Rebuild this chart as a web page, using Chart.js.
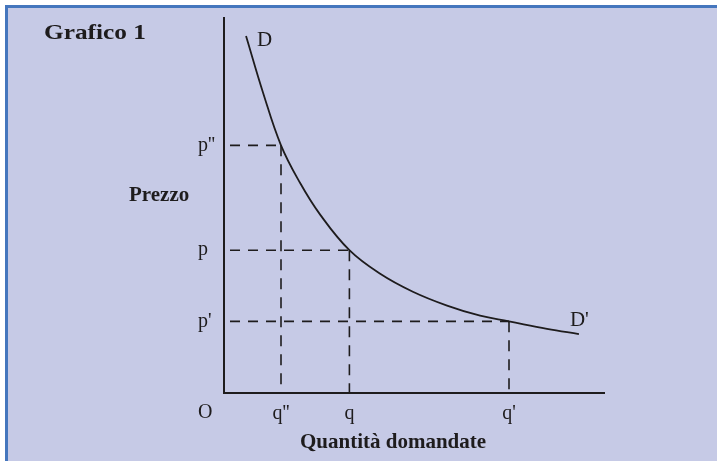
<!DOCTYPE html>
<html>
<head>
<meta charset="utf-8">
<script src="https://cdn.jsdelivr.net/npm/chart.js@4.4.1/dist/chart.umd.min.js"></script>
<style>
  html, body { margin: 0; padding: 0; background: #ffffff; }
  #wrap { position: absolute; left: 0; top: 0; width: 717px; height: 461px; }
  #panel { position: absolute; left: 5px; top: 5px; width: 712px; height: 456px;
           background: #c6cae6; border-left: 3px solid #4576bd; border-top: 3px solid #4576bd; box-sizing: border-box; }
  canvas { position: absolute; left: 0; top: 0; }
</style>
</head>
<body>
<div id="wrap">
  <div id="panel"></div>
  <canvas id="c" width="717" height="461"></canvas>
</div>
<script>
// ---- data ----
const chartTitle = "Grafico 1";
const yTitle = "Prezzo";
const xTitle = "Quantità domandate";
const originLabel = "O";
const curveLabels = ["D", "D'"];

// demand curve D-D' (quantity, price)
const curveQ = [5.8, 10.3, 15, 20.0, 25.3, 33, 41.1, 49.7, 58.7, 67.4, 75, 85.0, 93.4];
const curveP = [95.2, 80.0, 66, 56.0, 47.5, 38, 31.7, 26.9, 23.2, 20.5, 19, 17.0, 15.6];

// marked quantities and prices
const qValues = [15, 33, 75];
const qLabels = ["q''", "q", "q'"];
const pValues = [66, 38, 19];
const pLabels = ["p''", "p", "p'"];

const axisMax = 100;

// ---- build datasets ----
const ink = "#1e1c1d";
const curveData = curveQ.map((q, i) => ({ x: q, y: curveP[i] }));
const guideSets = [];
qValues.forEach((q, i) => {
  const p = pValues[i];
  guideSets.push({ type: 'line', data: [{x: 0, y: p}, {x: q, y: p}], borderColor: ink, borderWidth: 1.6,
                   borderDash: [10, 8], borderDashOffset: 12, pointRadius: 0, fill: false });
  guideSets.push({ type: 'line', data: [{x: q, y: p}, {x: q, y: 0}], borderColor: ink, borderWidth: 1.6,
                   borderDash: [11, 8], pointRadius: 0, fill: false });
});

const textPlugin = {
  id: 'texts',
  afterDraw(chart) {
    const ctx = chart.ctx;
    const xs = chart.scales.x, ys = chart.scales.y;
    ctx.save();
    ctx.fillStyle = ink;
    ctx.textBaseline = 'alphabetic';
    ctx.textAlign = 'left';
    // title: wide bold face, stretched horizontally to the reference width
    ctx.font = "bold 21px 'Liberation Serif'";
    const w = ctx.measureText(chartTitle).width;
    const k = 102 / w;
    ctx.save();
    ctx.translate(44, 39);
    ctx.scale(k, 1);
    ctx.fillText(chartTitle, 0, 0);
    ctx.restore();
    ctx.font = "bold 21px 'Liberation Serif'";
    ctx.fillText(yTitle, 129, 201);
    ctx.fillText(xTitle, 300, 448);
    ctx.font = "21px 'Liberation Serif'";
    const first = curveData[0], last = curveData[curveData.length - 1];
    ctx.fillText(curveLabels[0], xs.getPixelForValue(first.x) + 11, ys.getPixelForValue(first.y) + 10);
    ctx.fillText(curveLabels[1], xs.getPixelForValue(last.x) - 9, ys.getPixelForValue(last.y) - 8);
    ctx.font = "20px 'Liberation Serif'";
    ctx.fillText(originLabel, 198, 418);
    ctx.restore();
  }
};

new Chart(document.getElementById('c'), {
  type: 'scatter',
  data: {
    datasets: [
      { type: 'line', data: curveData, borderColor: ink, borderWidth: 1.8, pointRadius: 0,
        tension: 0.4, fill: false },
      ...guideSets
    ]
  },
  options: {
    responsive: false,
    animation: false,
    events: [],
    layout: { padding: { left: 198, top: 15, right: 113, bottom: 0 } },
    plugins: { legend: { display: false }, tooltip: { enabled: false } },
    scales: {
      x: {
        type: 'linear', min: 0, max: axisMax,
        grid: { display: false, drawTicks: false },
        border: { display: true, color: ink, width: 2 },
        afterBuildTicks: s => { s.ticks = qValues.map(v => ({ value: v })); },
        afterFit: s => { s.height = 68.5; },
        ticks: {
          autoSkip: false, maxRotation: 0, padding: 9, color: ink,
          font: { family: 'Liberation Serif', size: 20 },
          callback: (v) => { const i = qValues.indexOf(v); return i >= 0 ? qLabels[i] : ''; }
        }
      },
      y: {
        type: 'linear', min: 0, max: axisMax,
        grid: { display: false, drawTicks: false },
        border: { display: true, color: ink, width: 2 },
        afterBuildTicks: s => { s.ticks = pValues.map(v => ({ value: v })); },
        afterFit: s => { s.width = 26; },
        ticks: {
          autoSkip: false, crossAlign: 'far', padding: 6, color: ink,
          font: { family: 'Liberation Serif', size: 20 },
          callback: (v) => { const i = pValues.indexOf(v); return i >= 0 ? pLabels[i] : ''; }
        }
      }
    }
  },
  plugins: [textPlugin]
});
</script>
</body>
</html>
